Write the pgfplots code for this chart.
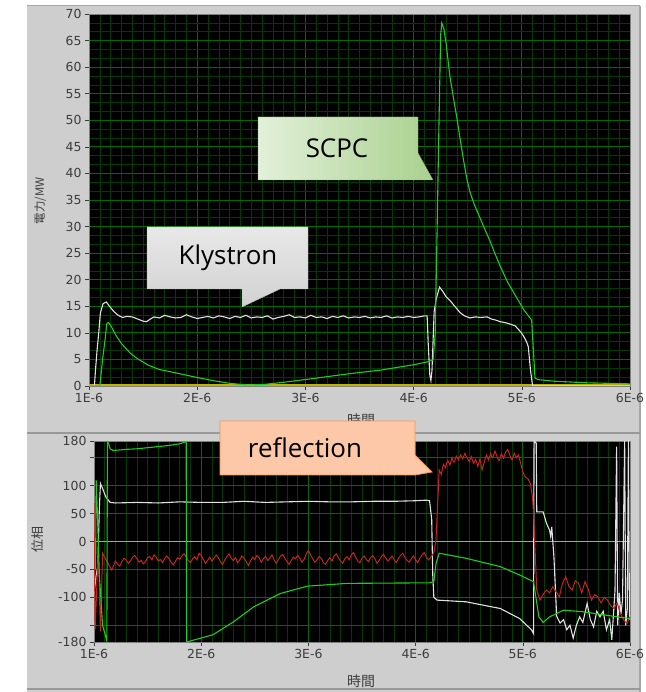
\documentclass[border=0pt]{standalone}
\usepackage{pgfplots}
\pgfplotsset{compat=1.18}
\usepackage{fontspec}
\setmainfont{DejaVu Sans}
\newfontfamily\osans{Open Sans}
\newfontfamily\cjk{Noto Sans CJK JP}
\definecolor{panel}{RGB}{206,206,206}
\definecolor{gmaj}{RGB}{0,108,0}
\definecolor{gmin}{RGB}{0,60,0}
\definecolor{wline}{RGB}{225,225,225}
\definecolor{gline}{RGB}{30,205,30}
\definecolor{rline}{RGB}{195,38,28}
\definecolor{yline}{RGB}{190,180,0}
\definecolor{ticktxt}{RGB}{60,60,60}
\definecolor{scpcL}{RGB}{226,240,217}
\definecolor{scpcR}{RGB}{169,209,142}
\definecolor{scpcB}{RGB}{130,170,110}
\pgfplotsset{
  labviewaxis/.style={
    scale only axis,
    xmin=1, xmax=6,
    axis background/.style={fill=black},
    grid=both,
    major grid style={draw=gmaj, line width=0.7bp},
    minor grid style={draw=gmin, line width=0.55bp},
    minor x tick num=9,
    minor y tick num=2,
    xtick={1,2,3,4,5,6},
    xticklabels={1E-6,2E-6,3E-6,4E-6,5E-6,6E-6},
    xtick pos=bottom, ytick pos=left,
    tick align=outside,
    major tick length=4bp, minor tick length=0bp,
    tick style={draw=ticktxt, line width=0.6bp},
    axis line style={draw=gray},
    tick label style={font=\fontsize{12.5}{13}\selectfont, text=ticktxt},
    /pgf/number format/assume math mode=true,
  }
}
\pgfplotstableread{
t v
1.00 69
1.01 -158
1.04 -15
1.06 -161
1.08 -21
1.13 -39
1.165 -51
1.20 -35
1.22 -41
1.24 -44
1.26 -36
1.28 -30
1.30 -33
1.32 -39
1.34 -35
1.36 -28
1.38 -25
1.40 -31
1.42 -37
1.44 -34
1.46 -40
1.48 -36
1.50 -29
1.52 -27
1.54 -33
1.56 -24
1.58 -28
1.60 -35
1.62 -32
1.64 -38
1.66 -30
1.68 -26
1.70 -31
1.72 -37
1.74 -42
1.76 -35
1.78 -29
1.80 -32
1.82 -26
1.84 -22
1.86 -28
1.88 -34
1.90 -38
1.92 -31
1.94 -27
1.96 -33
1.98 -21
2.00 -25
2.02 -32
2.04 -39
2.06 -34
2.08 -28
2.10 -35
2.12 -30
2.14 -24
2.16 -29
2.18 -36
2.20 -41
2.22 -33
2.24 -27
2.26 -22
2.28 -30
2.30 -34
2.32 -29
2.34 -38
2.36 -33
2.38 -26
2.40 -30
2.42 -36
2.44 -43
2.46 -35
2.48 -28
2.50 -32
2.52 -25
2.54 -29
2.56 -37
2.58 -31
2.60 -27
2.62 -34
2.64 -30
2.66 -24
2.68 -33
2.70 -39
2.72 -32
2.74 -26
2.76 -23
2.78 -30
2.80 -36
2.82 -41
2.84 -34
2.86 -28
2.88 -31
2.90 -25
2.92 -30
2.94 -37
2.96 -32
2.98 -22
3.00 -16
3.02 -24
3.04 -31
3.06 -37
3.08 -33
3.10 -27
3.12 -30
3.14 -38
3.16 -41
3.18 -34
3.20 -29
3.22 -35
3.24 -26
3.26 -22
3.28 -29
3.30 -35
3.32 -39
3.34 -31
3.36 -27
3.38 -33
3.40 -24
3.42 -20
3.44 -28
3.46 -35
3.48 -38
3.50 -30
3.52 -26
3.54 -32
3.56 -36
3.58 -29
3.60 -25
3.62 -31
3.64 -39
3.66 -34
3.68 -27
3.70 -23
3.72 -29
3.74 -35
3.76 -31
3.78 -26
3.80 -33
3.82 -38
3.84 -30
3.86 -25
3.88 -21
3.90 -28
3.92 -34
3.94 -37
3.96 -31
3.98 -26
4.00 -33
4.02 -38
4.04 -30
4.06 -24
4.08 -20
4.10 -27
4.12 -33
4.14 -29
4.17 -20
4.19 2
4.22 128
4.24 120
4.25 131
4.26 138
4.28 132
4.29 141
4.30 145
4.32 137
4.34 150
4.35 144
4.36 142
4.38 153
4.40 146
4.41 151
4.42 155
4.44 148
4.46 158
4.47 153
4.48 150
4.50 143
4.52 152
4.53 146
4.54 140
4.56 147
4.58 135
4.59 141
4.60 148
4.62 128
4.64 142
4.65 149
4.66 155
4.68 146
4.70 158
4.71 152
4.72 150
4.74 162
4.76 152
4.77 147
4.78 145
4.80 157
4.82 149
4.83 155
4.84 160
4.86 165
4.88 154
4.89 149
4.90 146
4.92 158
4.94 150
4.96 155
4.98 140
5.00 125
5.02 116
5.05 112
5.07 104
5.09 80
5.10 50
5.12 -40
5.13 -87
5.16 -105
5.19 -95
5.22 -87
5.25 -92
5.28 -81
5.31 -90
5.34 -99
5.37 -75
5.40 -63
5.43 -80
5.46 -87
5.49 -70
5.52 -75
5.55 -92
5.58 -72
5.61 -85
5.64 -105
5.67 -95
5.70 -99
5.73 -110
5.76 -100
5.79 -105
5.82 -115
5.85 -120
5.88 -110
5.91 -129
5.94 -140
5.97 -147
6.00 -135
}\redphase
\begin{document}
\begin{tikzpicture}[x=1bp,y=1bp]
\path[use as bounding box, fill=white] (0,0) rectangle (646,692);
\fill[panel] (27,0) rectangle (640,686);
\draw[gray!70, line width=1bp] (27,686) -- (640,686);
\draw[gray!70, line width=1.5bp] (640,0) -- (640,686);
\draw[gray!80, line width=1.5bp] (27,259) -- (640,259);
\draw[gray!80, line width=1.5bp] (27,3) -- (640,3);
% ---------------- top panel ----------------
\begin{axis}[labviewaxis, anchor=south west, at={(89bp,306bp)}, width=541bp, height=372bp,
  ymin=0, ymax=70, ytick={0,5,...,70}]
\addplot[yline, line width=1.4bp] coordinates {(1,0.15) (6,0.15)};
\addplot[wline, line width=1.1bp] coordinates {
(1.00,0) (1.05,0) (1.06,3) (1.075,6.8) (1.09,10) (1.105,13.7) (1.13,15.5) (1.16,15.8)
(1.19,15.0) (1.23,14.0) (1.27,13.3) (1.31,12.9) (1.35,13.1) (1.40,13.0) (1.45,12.6)
(1.50,12.2) (1.53,12.1) (1.56,12.5) (1.60,13.0) (1.65,12.8) (1.70,13.3) (1.75,13.0)
(1.80,12.8) (1.85,12.9) (1.90,13.4) (1.95,13.0) (2.00,12.7) (2.05,12.9) (2.10,13.1)
(2.15,12.8) (2.20,13.2) (2.25,13.0) (2.30,12.7) (2.35,13.1) (2.40,12.9) (2.45,13.3)
(2.50,12.8) (2.55,13.0) (2.60,12.9) (2.65,13.2) (2.70,12.6) (2.75,12.9) (2.80,13.1)
(2.85,13.4) (2.90,12.9) (2.95,13.0) (3.00,12.8) (3.05,13.3) (3.10,12.9) (3.15,13.0)
(3.20,12.7) (3.25,13.1) (3.30,12.9) (3.35,13.2) (3.40,12.8) (3.45,13.0) (3.50,12.9)
(3.55,13.1) (3.60,12.8) (3.65,13.0) (3.70,12.9) (3.75,13.2) (3.80,12.8) (3.85,13.0)
(3.90,12.9) (3.95,13.1) (4.00,12.9) (4.05,13.0) (4.10,13.2) (4.125,13.2) (4.135,8)
(4.15,2) (4.16,1.0) (4.17,3) (4.19,14) (4.21,16.5) (4.24,18.6) (4.27,17.8) (4.30,16.8)
(4.34,16.0) (4.38,15.0) (4.43,13.8) (4.47,13.2) (4.52,12.8) (4.57,13.0) (4.62,12.9)
(4.68,13.0) (4.72,12.6) (4.76,12.4) (4.80,12.1) (4.85,11.9) (4.90,11.6) (4.94,11.3)
(4.98,10.4) (5.01,9.6) (5.04,8.5) (5.06,7.4) (5.08,3) (5.10,0) (6.00,0)
};
\addplot[gline, line width=1.1bp] coordinates {
(1.00,0) (1.10,0) (1.125,4.9) (1.15,9) (1.165,11.8) (1.18,11.9) (1.20,11.4) (1.25,9.5)
(1.30,8.0) (1.38,6.2) (1.45,5.1) (1.55,3.9) (1.65,3.1) (1.75,2.7) (1.84,2.3) (2.00,1.6)
(2.15,1.0) (2.30,0.5) (2.46,0.2) (2.60,0.25) (2.80,0.7) (3.07,1.4) (3.40,2.3) (3.70,3.0)
(4.00,4.0) (4.12,4.5) (4.18,4.9) (4.20,10) (4.215,27) (4.235,50) (4.25,66) (4.26,68.3)
(4.28,67.2) (4.30,64.5) (4.32,61) (4.336,58.2) (4.37,54) (4.398,50.7) (4.43,46.5)
(4.459,42.8) (4.49,39.2) (4.521,36.5) (4.56,34.2) (4.614,31.6) (4.66,29.4) (4.706,27.3)
(4.75,25) (4.799,22.6) (4.87,19.5) (4.953,16.6) (5.02,14.3) (5.091,12.4) (5.122,1.5)
(5.15,1.2) (5.30,0.9) (5.60,0.6) (6.00,0.4)
};
\end{axis}
% ---------------- bottom panel ----------------
\begin{axis}[labviewaxis, anchor=south west, at={(94bp,50bp)}, width=536bp, height=201bp,
  ymin=-180, ymax=180,
  ytick={-180,-150,-100,-50,0,50,100,150,180},
  yticklabels={-180,,-100,-50,0,50,100,,180}]
\addplot[yline, line width=1.2bp] coordinates {(1,0) (6,0)};
\addplot[wline, line width=1.1bp] coordinates {
(1.00,-95) (1.02,-60) (1.035,-45) (1.05,60) (1.06,104) (1.08,95) (1.11,80) (1.15,70)
(1.20,69) (1.40,70) (1.60,69) (1.80,71) (2.00,70) (2.20,70) (2.40,72) (2.60,70) (2.80,71)
(3.00,72) (3.20,71) (3.40,71) (3.60,72) (3.80,72) (4.00,73) (4.10,74) (4.13,73) (4.15,40)
(4.16,-60) (4.17,-100) (4.20,-105) (4.47,-108) (4.79,-120) (4.97,-138) (5.08,-158)
(5.10,-165) (5.105,180) (5.125,176) (5.13,53) (5.19,53) (5.22,33) (5.25,20) (5.26,9)
(5.27,26) (5.29,-27) (5.316,-134) (5.347,-146) (5.38,-140) (5.41,-158) (5.44,-150)
(5.47,-173) (5.50,-150) (5.53,-135) (5.56,-145) (5.60,-111) (5.63,-140) (5.66,-153)
(5.69,-125) (5.72,-135) (5.75,-125) (5.78,-158) (5.81,-140) (5.83,-176) (5.86,-88)
(5.875,170) (5.885,-150) (5.90,-92) (5.915,-130) (5.93,-105) (5.95,180) (5.96,-150)
(5.975,-120) (5.985,180) (5.995,-140) (6.00,-135)
};
\addplot[rline, line width=1.0bp] table[x=t, y=v] {\redphase};
\addplot[gline, line width=1.1bp] coordinates {
(1.015,-50) (1.02,110) (1.03,60) (1.05,-60) (1.08,-150) (1.12,-178) (1.125,178)
(1.135,176) (1.15,166) (1.18,163) (1.30,165) (1.40,166) (1.50,168) (1.60,170) (1.70,172)
(1.80,175) (1.86,179) (1.865,-180) (2.11,-167) (2.30,-144) (2.49,-117) (2.74,-93)
(2.99,-80) (3.36,-75) (4.13,-74) (4.17,-72) (4.19,-40) (4.22,-21) (4.47,-30) (4.79,-45)
(4.97,-60) (5.10,-72) (5.15,-135) (5.19,-145) (5.25,-135) (5.38,-123) (5.57,-126)
(5.88,-135) (6.00,-138)
};
\end{axis}
% axis labels
\node[rotate=90, text=ticktxt, font=\cjk\fontsize{11.5}{12}\selectfont] at (40,491) {電力/MW};
\node[text=ticktxt, font=\cjk\fontsize{14}{14}\selectfont] at (361,272) {時間};
\node[rotate=90, text=ticktxt, font=\cjk\fontsize{13}{13}\selectfont] at (38,152) {位相};
\node[text=ticktxt, font=\cjk\fontsize{14}{14}\selectfont] at (361,11) {時間};
% callouts
\shade[top color=gray!18, bottom color=gray!36, draw=gray!60]
  (147,465) -- (308,465) -- (308,403) -- (280,403) -- (242,385) -- (242,403) -- (147,403) -- cycle;
\node[font=\osans\fontsize{26}{26}\selectfont] at (228,434) {Klystron};
\shade[left color=scpcL, right color=scpcR, draw=scpcB]
  (258,575) -- (418,575) -- (418,539) -- (433,512) -- (418,512) -- (258,512) -- cycle;
\node[font=\osans\fontsize{26}{26}\selectfont] at (337,544) {SCPC};
\fill[fill={rgb,255:red,252;green,200;blue,168}, draw={rgb,255:red,240;green,150;blue,90}, line width=0.8bp]
  (220,271) -- (415,271) -- (415,237) -- (432,220) -- (415,217) -- (220,217) -- cycle;
\node[font=\osans\fontsize{26}{26}\selectfont] at (305,244) {reflection};
\end{tikzpicture}
\end{document}
